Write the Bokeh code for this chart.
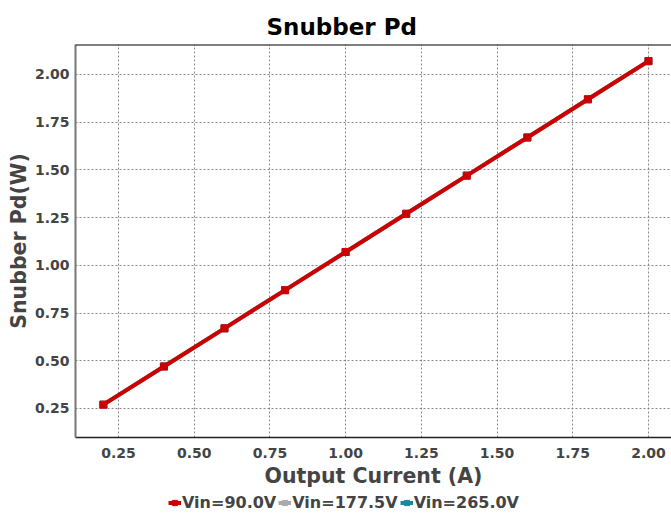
from bokeh.plotting import figure
from bokeh.layouts import column
from bokeh.models import Range1d, Legend, LegendItem, Span
from bokeh.embed import file_html
from bokeh.resources import INLINE

x_current = [0.2, 0.4, 0.6, 0.8, 1.0, 1.2, 1.4, 1.6, 1.8, 2.0]
pd_90 = [0.27, 0.47, 0.67, 0.87, 1.07, 1.27, 1.47, 1.67, 1.87, 2.07]
pd_177 = [0.27, 0.47, 0.67, 0.87, 1.07, 1.27, 1.47, 1.67, 1.87, 2.07]
pd_265 = [0.27, 0.47, 0.67, 0.87, 1.07, 1.27, 1.47, 1.67, 1.87, 2.07]
series_names = ["Vin=90.0V", "Vin=177.5V", "Vin=265.0V"]
colors = ["#cc0000", "#aaaaaa", "#1a8a9a"]
x_ticks = [0.25, 0.5, 0.75, 1.0, 1.25, 1.5, 1.75, 2.0]
y_ticks = [0.25, 0.5, 0.75, 1.0, 1.25, 1.5, 1.75, 2.0]

FONT = "DejaVu Sans"

p = figure(frame_width=596, frame_height=393, output_backend="svg", toolbar_location=None,
           x_range=Range1d(0.108, 2.076), y_range=Range1d(0.098, 2.157),
           min_border_left=75, min_border_right=0, min_border_top=44, min_border_bottom=0)

p.title.text = "Snubber Pd"
p.title.align = "left"
p.title.offset = 191
p.title.text_font = FONT
p.title.text_font_size = "23px"
p.title.text_font_style = "bold"
p.title.text_color = "#000000"

p.outline_line_color = None
p.background_fill_color = "white"
p.border_fill_color = "white"

for ax in (p.xaxis[0], p.yaxis[0]):
    ax.major_label_text_font = FONT
    ax.major_label_text_font_size = "14px"
    ax.major_label_text_font_style = "bold"
    ax.major_label_text_color = "#444444"
    ax.axis_label_text_font = FONT
    ax.axis_label_text_font_size = "20.5px"
    ax.axis_label_text_font_style = "bold"
    ax.axis_label_text_color = "#444444"
    ax.major_tick_line_color = None
    ax.minor_tick_line_color = None
    ax.major_tick_out = 0
    ax.minor_tick_out = 0

p.xaxis.axis_label = "Output Current (A)"
p.yaxis.axis_label = "Snubber Pd(W)"
p.xaxis.ticker = x_ticks
p.yaxis.ticker = y_ticks
p.xaxis.major_label_overrides = {t: f"{t:.2f}" for t in x_ticks}
p.yaxis.major_label_overrides = {t: f"{t:.2f}" for t in y_ticks}
p.xaxis.axis_line_color = "#222222"
p.xaxis.axis_line_width = 1.5
p.yaxis.axis_line_color = "#777777"
p.yaxis.axis_line_width = 2
p.xaxis.major_label_standoff = 10
p.yaxis.major_label_standoff = 6
p.xaxis.axis_label_standoff = 3
p.yaxis.axis_label_standoff = 1

for g in (p.xgrid[0], p.ygrid[0]):
    g.grid_line_color = "#888888"
    g.grid_line_dash = "2 2"
    g.grid_line_width = 1

top = Span(location=2.157, dimension="width", line_color="black", line_width=2)
p.add_layout(top)

series = list(zip(series_names, colors, [pd_90, pd_177, pd_265]))
for name, col, ys in reversed(series):
    p.line(x_current, ys, line_color=col, line_width=4)
    p.scatter(x_current, ys, marker="square", size=7, fill_color=col, line_color=col)

# Legend strip below the chart (same series, drawn out of view; only the legend shows)
lf = figure(width=671, height=22, output_backend="svg", toolbar_location=None,
            x_range=Range1d(-20, -19), y_range=Range1d(-20, -19),
            x_axis_location=None, y_axis_location=None,
            min_border_left=0, min_border_right=0, min_border_top=0, min_border_bottom=0)
lf.title = None
lf.outline_line_color = None
lf.xgrid.visible = False
lf.ygrid.visible = False
lf.background_fill_color = "white"
lf.border_fill_color = "white"

items = []
for name, col, ys in series:
    l = lf.line(x_current, ys, line_color=col, line_width=4)
    s = lf.scatter(x_current, ys, marker="square", size=7, fill_color=col, line_color=col)
    items.append(LegendItem(label=name, renderers=[l, s]))

legend = Legend(items=items, orientation="horizontal", location=(93, 0),
                label_text_font=FONT, label_text_font_size="16px",
                label_text_font_style="bold", label_text_color="#444444",
                glyph_width=13, glyph_height=13, label_standoff=1, spacing=2,
                padding=0, margin=0, border_line_color=None,
                background_fill_alpha=0)
lf.add_layout(legend)

layout = column(p, lf, spacing=0)
open("out.html", "w").write(file_html(layout, INLINE))
